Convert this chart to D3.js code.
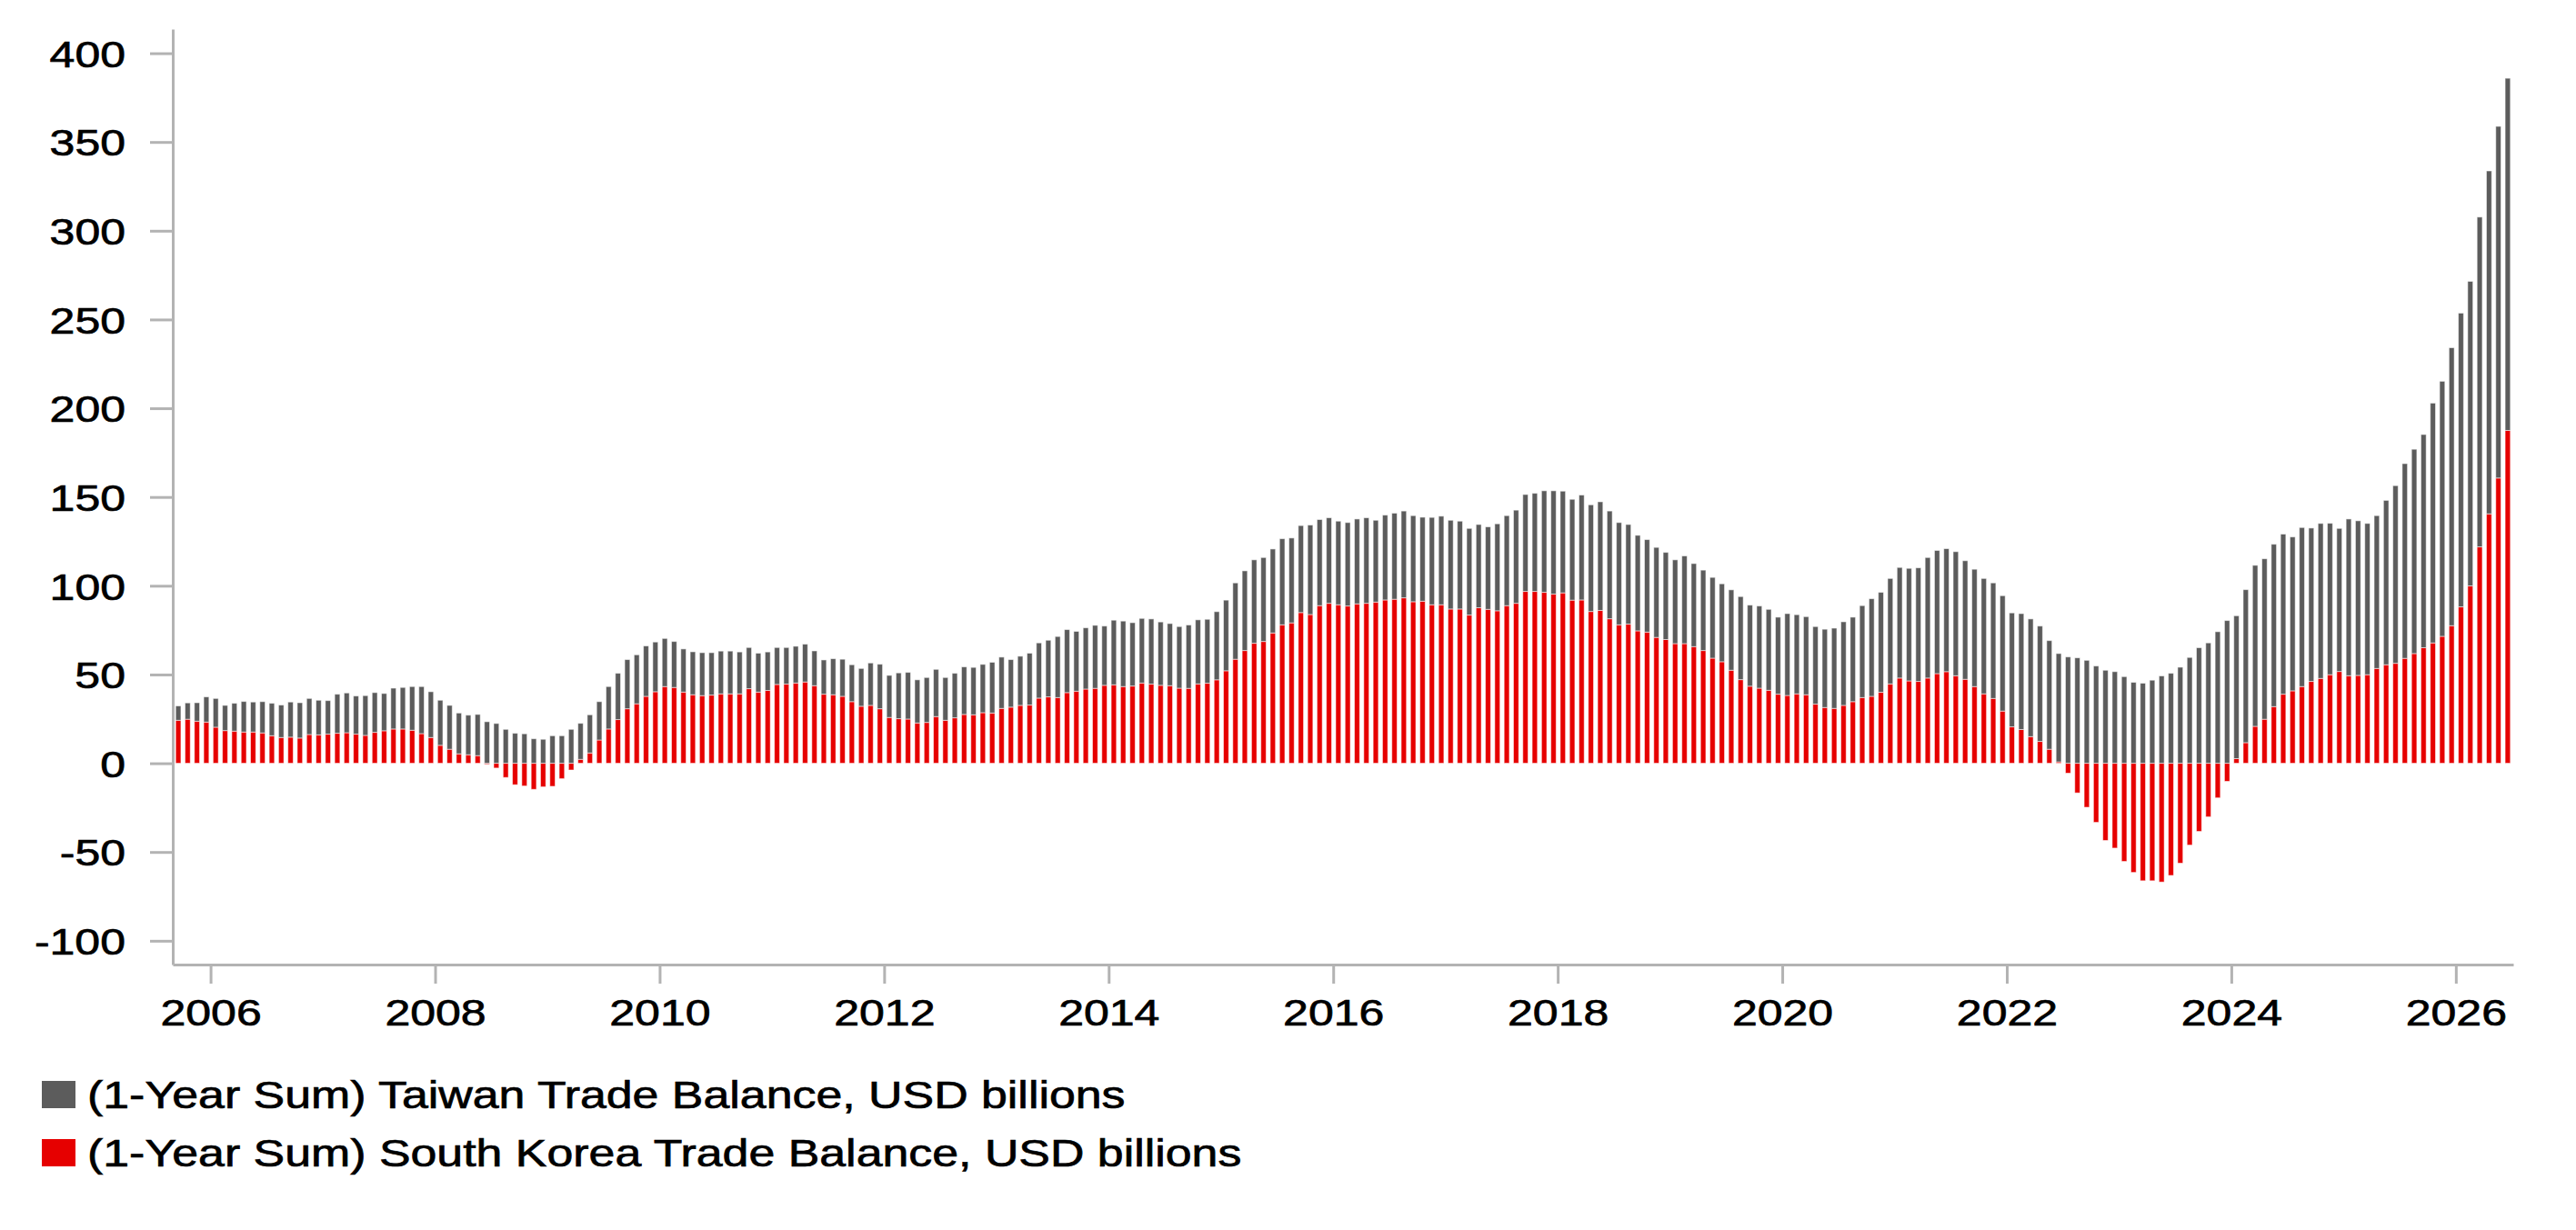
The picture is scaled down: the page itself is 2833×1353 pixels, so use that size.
<!DOCTYPE html>
<html>
<head>
<meta charset="utf-8">
<script src="https://cdn.jsdelivr.net/npm/d3@7"></script>
<style>
  body { margin: 0; background: #fff; }
  text { font-family: "Liberation Sans", Arial, Helvetica, sans-serif; fill: #000; stroke: #000; stroke-width: 0.7px; }
</style>
</head>
<body>
<div id="chart"></div>
<script>
// monthly bars, first one is Sep 2005
const startMonth = new Date(Date.UTC(2005, 8, 1));

const korea = [
  24.2, 24.8, 23.7, 23.2, 20.3, 18.4, 18.1, 17.6, 17.6, 17.1, 15.5, 14.5,
  14.7, 14.2, 16.2, 16.0, 16.4, 16.9, 17.2, 16.4, 15.7, 17.4, 18.3, 19.3,
  19.3, 18.6, 16.7, 14.5, 10.1, 7.9, 5.3, 4.8, 4.3, -0.6, -2.7, -8.0,
  -12.1, -12.8, -14.7, -13.3, -13.0, -8.7, -3.8, 2.2, 5.8, 13.1, 19.3, 24.6,
  30.7, 33.5, 37.7, 40.3, 43.2, 42.7, 40.1, 38.6, 38.1, 38.4, 39.1, 39.1,
  39.1, 42.0, 40.1, 41.0, 44.4, 44.6, 45.2, 45.8, 43.7, 38.9, 38.6, 37.7,
  34.7, 32.1, 32.6, 30.7, 25.8, 25.1, 24.9, 22.7, 23.0, 26.3, 24.2, 25.6,
  27.5, 27.3, 28.5, 28.3, 30.9, 31.6, 32.6, 32.8, 36.7, 37.4, 37.0, 39.8,
  40.6, 41.8, 42.2, 43.9, 44.2, 43.2, 43.5, 45.2, 44.6, 43.9, 43.7, 42.3,
  42.2, 44.7, 45.1, 47.0, 52.1, 58.6, 63.5, 67.6, 68.6, 73.4, 78.0, 79.1,
  84.9, 83.8, 88.8, 90.1, 89.3, 88.6, 89.8, 90.1, 90.8, 92.0, 92.4, 93.2,
  91.0, 91.3, 89.3, 89.3, 86.9, 86.9, 83.5, 87.6, 86.7, 85.9, 88.8, 90.1,
  96.8, 96.8, 96.3, 95.3, 96.0, 91.9, 92.0, 85.5, 86.1, 81.4, 78.0, 78.4,
  74.6, 73.9, 70.9, 69.7, 67.4, 67.4, 65.7, 63.5, 59.2, 57.2, 52.4, 47.1,
  43.4, 42.3, 41.1, 38.9, 38.2, 39.1, 38.6, 33.3, 31.4, 30.9, 32.6, 34.7,
  37.0, 37.7, 40.0, 44.7, 48.0, 46.4, 46.1, 48.0, 50.5, 51.6, 49.3, 47.3,
  43.2, 39.1, 36.5, 29.4, 20.5, 19.0, 15.0, 12.3, 7.9, 0.8, -5.6, -16.7,
  -24.8, -33.3, -43.5, -47.8, -55.3, -61.5, -66.2, -66.2, -66.9, -63.2, -56.3, -46.1,
  -38.4, -30.2, -19.5, -10.2, 2.6, 11.6, 20.8, 24.8, 31.9, 38.9, 40.8, 43.2,
  46.1, 47.8, 49.9, 51.7, 49.3, 49.5, 49.9, 53.4, 55.5, 56.3, 59.1, 61.8,
  65.1, 67.8, 71.5, 77.5, 88.1, 99.9, 121.9, 140.5, 160.7, 187.5
];

const taiwan = [
  8.1, 9.2, 10.4, 14.2, 16.2, 14.2, 15.7, 17.2, 16.9, 17.6, 18.3, 18.3,
  19.8, 19.9, 20.3, 19.5, 18.9, 22.0, 22.4, 21.5, 22.4, 22.4, 21.0, 23.0,
  23.4, 24.6, 26.5, 25.8, 25.4, 24.7, 23.0, 22.3, 23.2, 23.4, 22.4, 19.1,
  16.9, 16.6, 13.8, 13.5, 15.5, 15.5, 19.1, 20.3, 21.5, 21.6, 23.9, 26.1,
  27.7, 27.6, 28.4, 28.0, 27.1, 25.9, 24.3, 24.2, 24.2, 23.9, 24.1, 24.1,
  23.6, 23.2, 21.9, 21.7, 20.8, 20.6, 20.7, 21.3, 19.6, 19.3, 20.3, 20.9,
  20.8, 21.3, 23.9, 25.1, 23.7, 25.8, 26.3, 24.3, 25.3, 26.6, 24.1, 25.1,
  26.8, 26.7, 27.2, 28.6, 28.9, 26.8, 27.7, 29.2, 31.1, 31.9, 34.4, 35.5,
  33.7, 34.5, 35.5, 33.4, 36.4, 36.9, 35.7, 36.4, 36.7, 35.7, 35.0, 34.7,
  35.7, 36.1, 36.0, 38.4, 39.8, 43.0, 44.9, 47.0, 47.3, 47.3, 48.5, 47.8,
  49.0, 50.4, 48.5, 48.2, 47.1, 47.0, 47.8, 48.2, 46.1, 47.8, 48.5, 48.9,
  48.5, 47.3, 49.2, 49.9, 50.0, 49.5, 48.8, 46.9, 46.5, 49.0, 50.7, 52.5,
  54.6, 55.3, 57.2, 58.2, 57.3, 56.8, 59.1, 60.1, 61.2, 60.7, 57.6, 56.1,
  53.8, 52.1, 50.7, 49.1, 47.2, 49.4, 46.8, 45.3, 45.5, 43.9, 45.3, 46.8,
  45.7, 46.3, 45.6, 43.4, 46.1, 44.6, 44.0, 43.7, 44.1, 45.2, 47.1, 47.6,
  51.8, 55.0, 56.3, 59.4, 62.3, 63.4, 64.0, 67.9, 69.4, 69.3, 69.9, 66.8,
  66.1, 65.0, 65.1, 65.0, 64.2, 65.3, 66.3, 65.0, 61.2, 61.0, 59.9, 59.4,
  58.0, 54.8, 52.4, 51.6, 48.8, 45.6, 45.1, 46.8, 49.2, 50.7, 54.1, 59.6,
  65.1, 67.8, 74.1, 80.4, 80.5, 86.2, 90.7, 90.4, 91.5, 90.2, 86.7, 89.6,
  86.4, 87.3, 85.3, 80.6, 88.3, 87.1, 85.2, 86.1, 92.6, 100.1, 109.7, 115.1,
  120.1, 135.1, 143.7, 156.6, 165.5, 171.6, 185.8, 193.2, 198.1, 198.4
];

const yTicks = [-100, -50, 0, 50, 100, 150, 200, 250, 300, 350, 400];
const xTickYears = [2006, 2008, 2010, 2012, 2014, 2016, 2018, 2020, 2022, 2024, 2026];

const seriesKeys = ["korea", "taiwan"];
const legendItems = [
  {key: "taiwan", label: "(1-Year Sum) Taiwan Trade Balance, USD billions"},
  {key: "korea", label: "(1-Year Sum) South Korea Trade Balance, USD billions"}
];
const color = d3.scaleOrdinal(seriesKeys, ["#e60000", "#5c5c5c"]);

const width = 2833;
const height = 1353;
const plot = {left: 190, right: 2764, top: 32, bottom: 1061};
const axisColor = "#b3b3b3";
// the picture is stretched sideways, so every label gets a horizontal scale
const tickFont = 41, tickStretch = 1.22;
const legendFont = 42, legendStretch = 1.235;

const months = d3.utcMonth.range(startMonth, d3.utcMonth.offset(startMonth, korea.length));
const rows = months.map((m, i) => ({month: m, korea: korea[i], taiwan: taiwan[i]}));

const stacked = d3.stack()
    .keys(seriesKeys)
    .offset(d3.stackOffsetDiverging)(rows);

const x = d3.scaleBand()
    .domain(months)
    .range([plot.left, plot.right])
    .paddingInner(0.44)
    .paddingOuter(0.31);

const y = d3.scaleLinear()
    .domain([-113.4, 413.6])
    .range([plot.bottom, plot.top]);

const svg = d3.select("#chart").append("svg")
    .attr("width", width)
    .attr("height", height)
    .attr("viewBox", [0, 0, width, height]);

// bars
svg.append("g")
  .selectAll("g")
  .data(stacked)
  .join("g")
    .attr("fill", d => color(d.key))
  .selectAll("rect")
  .data(d => d)
  .join("rect")
    .attr("x", d => x(d.data.month))
    .attr("width", x.bandwidth())
    .attr("y", d => y(Math.max(d[0], d[1])))
    .attr("height", d => Math.abs(y(d[0]) - y(d[1])))
    .attr("stroke", "#fff")
    .attr("stroke-opacity", 0.55)
    .attr("stroke-width", 1);

// y axis
const yAxis = svg.append("g")
    .attr("transform", `translate(${plot.left},0)`)
    .call(d3.axisLeft(y)
        .tickValues(yTicks)
        .tickSize(25)
        .tickSizeOuter(0)
        .tickFormat(d => String(d)));

yAxis.selectAll("text")
    .attr("x", 0)
    .attr("dy", "0.36em")
    .attr("transform", `translate(-52,0) scale(${tickStretch},1)`)
    .style("font-size", tickFont + "px");

// x axis, ticks sit on the January boundary
const xAxis = svg.append("g")
    .attr("transform", `translate(0,${plot.bottom})`)
    .call(d3.axisBottom(x)
        .tickValues(xTickYears.map(yr => new Date(Date.UTC(yr, 0, 1))))
        .tickSize(21)
        .tickSizeOuter(0)
        .tickFormat(d => d.getUTCFullYear()));

xAxis.selectAll(".tick")
    .attr("transform", d => `translate(${x(d) - x.step() * x.paddingInner() / 2},0)`);

xAxis.selectAll("text")
    .attr("y", 0)
    .attr("dy", 0)
    .attr("transform", `translate(0,67) scale(${tickStretch},1)`)
    .style("font-size", tickFont + "px");

svg.selectAll(".domain, .tick line")
    .attr("stroke", axisColor)
    .attr("stroke-width", 3);
svg.selectAll(".tick text").attr("fill", "#000");

// legend
const legend = svg.append("g")
  .selectAll("g")
  .data(legendItems)
  .join("g")
    .attr("transform", (d, i) => `translate(46,${1189 + i * 64})`);

legend.append("rect")
    .attr("width", 37)
    .attr("height", 30)
    .attr("fill", d => color(d.key));

legend.append("text")
    .attr("transform", `translate(50,30) scale(${legendStretch},1)`)
    .style("font-size", legendFont + "px")
    .text(d => d.label);
</script>
</body>
</html>
